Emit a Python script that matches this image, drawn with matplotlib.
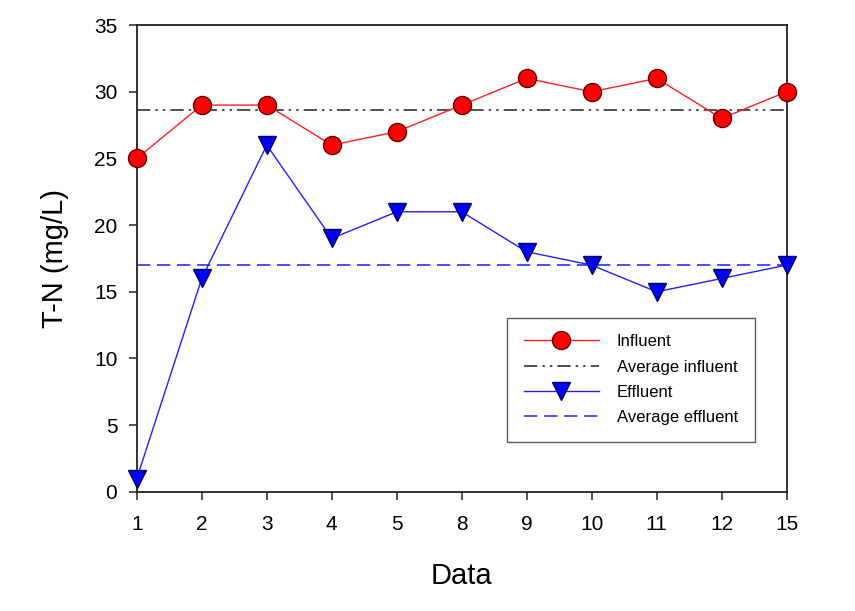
import numpy as np
import matplotlib
matplotlib.use("Agg")
import matplotlib.pyplot as plt

plt.rcParams['font.family'] = ['Liberation Sans', 'DejaVu Sans']

# data
dates = ['1', '2', '3', '4', '5', '8', '9', '10', '11', '12', '15']
influent = [25, 29, 29, 26, 27, 29, 31, 30, 31, 28, 30]
effluent = [1, 16, 26, 19, 21, 21, 18, 17, 15, 16, 17]

x = np.arange(len(dates))
avg_in = np.mean(influent)
avg_ef = np.mean(effluent)

fig = plt.figure(figsize=(8.55, 6.11), dpi=100)
ax = fig.add_axes([0.160, 0.195, 0.760, 0.764])

ax.plot(x, influent, color='#ff2020', linewidth=1, marker='o', markersize=13,
        markerfacecolor='#ff0000', markeredgecolor='#600000', markeredgewidth=1,
        label='Influent', clip_on=False, zorder=4)
ax.plot([x[0], x[-1]], [avg_in, avg_in], color='#333333', linewidth=1.2,
        dashes=(8, 3, 1.5, 3, 1.5, 3), label='Average influent', zorder=2)
ax.plot(x, effluent, color='#2020ff', linewidth=1, marker='v', markersize=13,
        markerfacecolor='#0000ff', markeredgecolor='#000060', markeredgewidth=1,
        label='Effluent', clip_on=False, zorder=4)
ax.plot([x[0], x[-1]], [avg_ef, avg_ef], color='#3030ff', linewidth=1.2,
        dashes=(8, 4), label='Average effluent', zorder=2)

ax.set_xlim(x[0], x[-1])
ax.set_ylim(0, 35)
ax.set_xticks(x)
ax.set_xticklabels(dates)
ax.set_yticks(np.arange(0, 36, 5))
ax.tick_params(direction='out', length=6, width=1.2, labelsize=15, color='#333333')
ax.tick_params(axis='x', pad=11)
ax.tick_params(axis='y', pad=8)
for s in ax.spines.values():
    s.set_linewidth(1.3)
    s.set_color('#222222')

ax.set_xlabel('Data', fontsize=21, labelpad=20)
ax.set_ylabel('T-N (mg/L)', fontsize=21, labelpad=18)

leg = ax.legend(loc='lower right', bbox_to_anchor=(0.951, 0.107), borderaxespad=0,
                fontsize=12, frameon=True, fancybox=False, edgecolor='#333333',
                handlelength=4.5, borderpad=1.0, labelspacing=0.62, handletextpad=1.1)
leg.get_frame().set_linewidth(1.0)

fig.savefig('out.png', dpi=100)
